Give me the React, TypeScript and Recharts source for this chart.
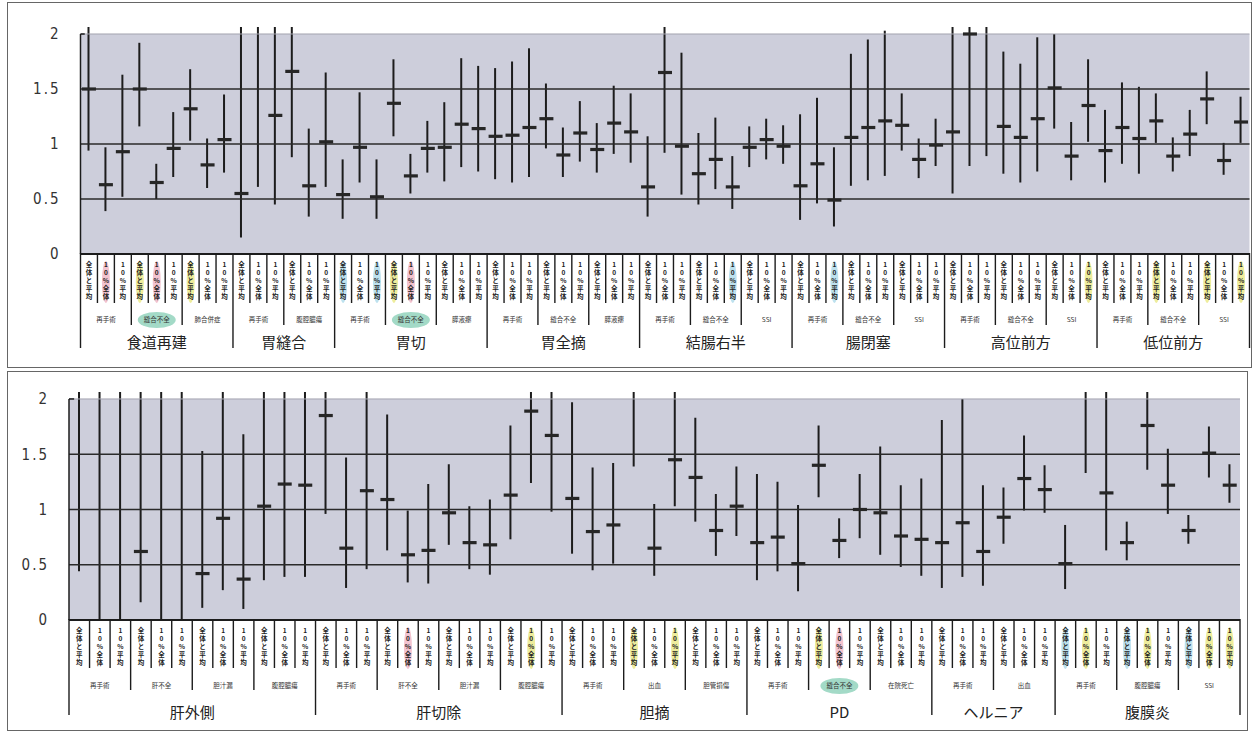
import React from "react";
import {
  ComposedChart,
  Bar,
  Scatter,
  XAxis,
  YAxis,
  ReferenceArea,
  ReferenceLine,
} from "recharts";

// ---- upper panel ----
const topGroups = ["食道再建", "胃縫合", "胃切", "胃全摘", "結腸右半", "腸閉塞", "高位前方", "低位前方"];
const topSubgroups = [
  ["再手術", "縫合不全", "肺合併症"],
  ["再手術", "腹腔膿瘍"],
  ["再手術", "縫合不全", "膵液瘻"],
  ["再手術", "縫合不全", "膵液瘻"],
  ["再手術", "縫合不全", "SSI"],
  ["再手術", "縫合不全", "SSI"],
  ["再手術", "縫合不全", "SSI"],
  ["再手術", "縫合不全", "SSI"],
];
const topMid = [
  1.5, 0.63, 0.93, 1.5, 0.65, 0.96, 1.32, 0.81, 1.04,
  0.55, 2.25, 1.26, 1.66, 0.62, 1.02,
  0.54, 0.97, 0.52, 1.37, 0.71, 0.96, 0.97, 1.18, 1.14,
  1.07, 1.08, 1.15, 1.23, 0.9, 1.1, 0.95, 1.19, 1.11,
  0.61, 1.65, 0.98, 0.73, 0.86, 0.61, 0.97, 1.04, 0.98,
  0.62, 0.82, 0.49, 1.06, 1.15, 1.21, 1.17, 0.86, 0.99,
  1.11, 2.0, 2.25, 1.16, 1.06, 1.23, 1.51, 0.89, 1.35,
  0.94, 1.15, 1.05, 1.21, 0.89, 1.09, 1.41, 0.85, 1.2,
];
const topLow = [
  0.94, 0.39, 0.52, 1.16, 0.5, 0.7, 1.03, 0.6, 0.74,
  0.15, 0.61, 0.45, 0.88, 0.34, 0.61,
  0.32, 0.65, 0.32, 1.07, 0.55, 0.74, 0.66, 0.79, 0.75,
  0.68, 0.65, 0.7, 0.96, 0.7, 0.84, 0.74, 0.91, 0.83,
  0.34, 0.92, 0.54, 0.45, 0.59, 0.41, 0.79, 0.86, 0.82,
  0.31, 0.46, 0.25, 0.62, 0.67, 0.71, 0.94, 0.69, 0.8,
  0.55, 0.8, 0.89, 0.73, 0.65, 0.75, 1.14, 0.67, 1.02,
  0.65, 0.82, 0.73, 1.01, 0.75, 0.89, 1.18, 0.72, 1.01,
];
const topHigh = [
  2.5, 0.97, 1.63, 1.92, 0.82, 1.29, 1.68, 1.05, 1.45,
  2.5, 2.5, 2.5, 2.5, 1.14, 1.65,
  0.86, 1.47, 0.86, 1.77, 0.91, 1.21, 1.38, 1.78, 1.71,
  1.69, 1.75, 1.87, 1.55, 1.15, 1.39, 1.19, 1.53, 1.46,
  1.07, 2.5, 1.83, 1.1, 1.24, 0.89, 1.16, 1.23, 1.17,
  1.27, 1.42, 0.97, 1.82, 1.95, 2.03, 1.46, 1.05, 1.23,
  2.5, 2.5, 2.5, 1.84, 1.73, 1.97, 2.0, 1.2, 1.77,
  1.31, 1.56, 1.52, 1.46, 1.06, 1.31, 1.66, 1.01, 1.43,
];
const topPink = [1, 4, 19];
const topYellow = [3, 6, 18, 59, 63, 66, 68];
const topBlue = [15, 17, 38, 44];
const topCircled = [1, 6];

// ---- lower panel ----
const bottomGroups = ["肝外側", "肝切除", "胆摘", "PD", "ヘルニア", "腹膜炎"];
const bottomSubgroups = [
  ["再手術", "肝不全", "胆汁漏", "腹腔膿瘍"],
  ["再手術", "肝不全", "胆汁漏", "腹腔膿瘍"],
  ["再手術", "出血", "胆管損傷"],
  ["再手術", "縫合不全", "在院死亡"],
  ["再手術", "出血"],
  ["再手術", "腹腔膿瘍", "SSI"],
];
const bottomMid = [
  2.25, 2.25, 2.25, 0.62, 2.25, 2.25, 0.42, 0.92, 0.37, 1.03, 1.23, 1.22,
  1.85, 0.65, 1.17, 1.09, 0.59, 0.63, 0.97, 0.7, 0.68, 1.13, 1.89, 1.67,
  1.1, 0.8, 0.86, 2.25, 0.65, 1.45, 1.29, 0.81, 1.03,
  0.7, 0.75, 0.51, 1.4, 0.72, 1.0, 0.97, 0.76, 0.73,
  0.7, 0.88, 0.62, 0.93, 1.28, 1.18,
  0.51, 2.25, 1.15, 0.7, 1.76, 1.22, 0.81, 1.51, 1.22,
];
const bottomLow = [
  0.44, 0, 0, 0.16, 0, 0, 0.11, 0.27, 0.1, 0.36, 0.39, 0.39,
  0.96, 0.29, 0.46, 0.63, 0.34, 0.33, 0.68, 0.46, 0.41, 0.73, 1.24, 0.98,
  0.6, 0.45, 0.51, 1.39, 0.4, 1.03, 0.89, 0.58, 0.76,
  0.36, 0.44, 0.26, 1.11, 0.56, 0.74, 0.59, 0.48, 0.4,
  0.29, 0.39, 0.31, 0.69, 0.99, 0.97,
  0.28, 1.33, 0.63, 0.54, 1.36, 0.96, 0.69, 1.29, 1.06,
];
const bottomHigh = [
  2.5, 2.5, 2.5, 2.5, 2.5, 2.5, 1.53, 2.5, 1.68, 2.5, 2.5, 2.5,
  2.5, 1.47, 2.5, 1.86, 0.99, 1.23, 1.41, 1.03, 1.09, 1.76, 2.5, 2.5,
  1.97, 1.38, 1.42, 2.5, 1.05, 2.5, 1.83, 1.14, 1.39,
  1.32, 1.25, 1.04, 1.76, 0.92, 1.32, 1.57, 1.22, 1.28,
  1.81, 2.0, 1.22, 1.2, 1.67, 1.4,
  0.86, 2.5, 2.5, 0.89, 2.5, 1.55, 0.95, 1.75, 1.41,
];
const bottomPink = [16, 37];
const bottomYellow = [22, 27, 29, 36, 49, 52, 55, 56];
const bottomBlue = [48, 51, 54];
const bottomCircled = [12];

const barLabels = ["全体と平均", "10%全体", "10%平均"];
const yTicks = [0, 0.5, 1, 1.5, 2];

const BARS_PER_SUB = 3;
const INK = "#1c1c1c";
const CJK = "'Noto Sans CJK JP', 'Noto Sans', sans-serif";

interface PanelProps {
  groups: string[];
  subgroups: string[][];
  mid: number[];
  low: number[];
  high: number[];
  pink: number[];
  yellow: number[];
  blue: number[];
  circled: number[];
  width: number;
  height: number;
  margin: { top: number; right: number; bottom: number; left: number };
  yAxisWidth: number;
  xAxisHeight: number;
  yTop: number;
  sepLen: { bar: number; sub: number; group: number };
  groupDy: number;
}

function Panel(props: PanelProps) {
  const { groups, subgroups, mid, low, high, sepLen } = props;
  const n = mid.length;
  const rows = mid.map((m, i) => ({ x: i + 0.5, mid: m, ci: [low[i], high[i]] }));

  // keys are doubled x positions so that half steps stay integers
  const level = new Map<number, "bar" | "sub" | "group">();
  const subCenter = new Map<number, { name: string; circled: boolean }>();
  const groupCenter = new Map<number, string>();
  let pos = 0;
  let subIdx = 0;
  groups.forEach((g, gi) => {
    const gStart = pos;
    subgroups[gi].forEach((s) => {
      const sStart = pos;
      for (let b = 0; b < BARS_PER_SUB; b++) {
        level.set(pos * 2, pos === gStart ? "group" : pos === sStart ? "sub" : "bar");
        pos++;
      }
      subCenter.set(sStart + pos, { name: s, circled: props.circled.includes(subIdx) });
      subIdx++;
    });
    groupCenter.set(gStart + pos, g);
  });
  level.set(pos * 2, "group");

  const xTicks = Array.from({ length: 2 * n + 1 }, (_, k) => k / 2);

  const tintOf = (i: number) =>
    props.pink.includes(i) ? "#f2c3cf" : props.yellow.includes(i) ? "#eeed9c" : props.blue.includes(i) ? "#bde1ee" : null;

  const renderTick = (p: any) => {
    const { x, y, payload } = p;
    const k = Math.round(payload.value * 2);
    const parts: React.ReactNode[] = [];
    const lv = level.get(k);
    if (lv) {
      parts.push(<line key="sep" x1={x} x2={x} y1={y - 1} y2={y + sepLen[lv]} stroke={INK} strokeWidth={1.4} />);
    }
    if (k % 2 === 1) {
      const i = (k - 1) / 2;
      const tint = tintOf(i);
      if (tint) parts.push(<ellipse key="tint" cx={x} cy={y + 28} rx={4} ry={21} fill={tint} />);
      const label = barLabels[i % BARS_PER_SUB];
      Array.from(label).forEach((ch, c) => {
        parts.push(
          <text key={"c" + c} x={x} y={y + 13 + c * 8} textAnchor="middle" fontSize={6.5} fontWeight="bold" fill="#222" fontFamily={CJK}>
            {ch}
          </text>
        );
      });
    }
    const sc = subCenter.get(k);
    if (sc) {
      if (sc.circled) parts.push(<ellipse key="oval" cx={x} cy={y + 66} rx={19} ry={8} fill="#a3dac7" />);
      parts.push(
        <text key="sub" x={x} y={y + 68} textAnchor="middle" fontSize={6.5} fill="#333" fontFamily={CJK}>
          {sc.name}
        </text>
      );
    }
    const gc = groupCenter.get(k);
    if (gc) {
      parts.push(
        <text key="grp" x={x} y={y + props.groupDy} textAnchor="middle" fontSize={15} fill="#222" fontFamily={CJK}>
          {gc}
        </text>
      );
    }
    return <g>{parts}</g>;
  };

  const renderMid = (p: any) => {
    const { cx, cy } = p;
    if (!Number.isFinite(cx) || !Number.isFinite(cy)) return <g />;
    return <rect x={cx - 7} y={cy - 1.6} width={14} height={3.2} fill="#262626" />;
  };

  return (
    <ComposedChart width={props.width} height={props.height} data={rows} margin={props.margin}>
      <XAxis
        dataKey="x"
        type="number"
        domain={[0, n]}
        ticks={xTicks}
        interval={0}
        axisLine={false}
        tickLine={false}
        tickSize={0}
        tickMargin={0}
        height={props.xAxisHeight}
        tick={renderTick}
      />
      <YAxis
        type="number"
        domain={[0, props.yTop]}
        ticks={yTicks}
        allowDataOverflow
        axisLine={false}
        tickLine={false}
        tickSize={0}
        tickMargin={20}
        width={props.yAxisWidth}
        tick={{ fill: "#333", fontSize: 15, fontFamily: "'Liberation Sans Narrow', 'DejaVu Sans Condensed', sans-serif", letterSpacing: 2 }}
      />
      <ReferenceArea x1={0} x2={n} y1={0} y2={2} fill="#cdcedb" fillOpacity={1} stroke="none" />
      <ReferenceLine y={2} stroke="#a3a3b0" strokeWidth={1} />
      {[0.5, 1, 1.5].map((v) => (
        <ReferenceLine key={v} y={v} stroke="#2a2a2a" strokeWidth={1.5} />
      ))}
      <ReferenceLine y={0} stroke={INK} strokeWidth={2} />
      <ReferenceLine segment={[{ x: 0, y: 0 }, { x: 0, y: 2 }]} stroke={INK} strokeWidth={1.5} />
      <ReferenceLine segment={[{ x: 0, y: 2 }, { x: 0.25, y: 2 }]} stroke={INK} strokeWidth={1.5} />
      <Bar dataKey="ci" barSize={2} fill={INK} isAnimationActive={false} />
      <Scatter dataKey="mid" isAnimationActive={false} shape={renderMid} />
    </ComposedChart>
  );
}

export default function App() {
  return (
    <div style={{ position: "absolute", left: 0, top: 0, width: 1254, height: 733, background: "#fff" }}>
      <div style={{ position: "absolute", left: 0, top: 0 }}>
        <Panel
          groups={topGroups}
          subgroups={topSubgroups}
          mid={topMid}
          low={topLow}
          high={topHigh}
          pink={topPink}
          yellow={topYellow}
          blue={topBlue}
          circled={topCircled}
          width={1254}
          height={370}
          margin={{ top: 27, right: 4.5, bottom: 6, left: 20.5 }}
          yAxisWidth={60}
          xAxisHeight={110}
          yTop={2.0636}
          sepLen={{ bar: 49, sub: 71, group: 94 }}
          groupDy={94}
        />
      </div>
      <div style={{ position: "absolute", left: 0, top: 370 }}>
        <Panel
          groups={bottomGroups}
          subgroups={bottomSubgroups}
          mid={bottomMid}
          low={bottomLow}
          high={bottomHigh}
          pink={bottomPink}
          yellow={bottomYellow}
          blue={bottomBlue}
          circled={bottomCircled}
          width={1254}
          height={363}
          margin={{ top: 22, right: 14, bottom: 13, left: 19 }}
          yAxisWidth={50}
          xAxisHeight={100}
          yTop={2.063}
          sepLen={{ bar: 48, sub: 70, group: 95 }}
          groupDy={98}
        />
      </div>
      <div style={{ position: "absolute", left: 7, top: 2, width: 1243, height: 364, border: "1.5px solid #666", pointerEvents: "none" }} />
      <div style={{ position: "absolute", left: 7, top: 371, width: 1239, height: 358, border: "1.5px solid #666", pointerEvents: "none" }} />
    </div>
  );
}
